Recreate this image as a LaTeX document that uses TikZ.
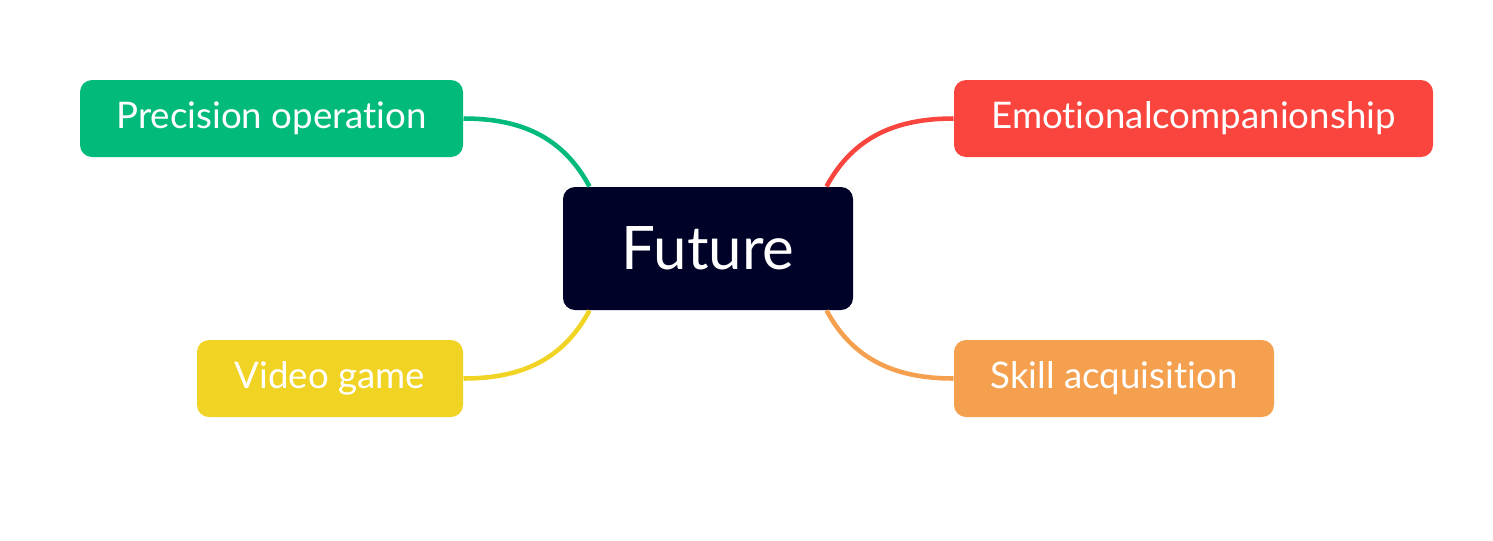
\documentclass[tikz,border=0pt]{standalone}
\usepackage{fontspec}
\setmainfont{Lato}[Ligatures=NoCommon]
\definecolor{futurenavy}{RGB}{0,2,40}
\definecolor{precgreen}{RGB}{2,187,122}
\definecolor{emored}{RGB}{250,68,62}
\definecolor{gameyellow}{RGB}{241,211,36}
\definecolor{skillorange}{RGB}{245,160,78}
\tikzset{every picture/.style={line width=0.75pt}}
\tikzset{
  topic/.style={rectangle, rounded corners=9pt, minimum height=57.75pt, inner sep=0pt, text=white, font=\fontsize{27.5}{31}\selectfont},
  branch/.style={line width=3.4pt}
}
\begin{document}
\begin{tikzpicture}[x=0.75pt,y=0.75pt,yscale=-1,xscale=1]
\useasboundingbox (0,0) rectangle (1493,540);

% Central topic
\node (future) [rectangle, rounded corners=9pt, fill=futurenavy, minimum width=217.5pt, minimum height=92.25pt, inner sep=0pt, text=white, font=\fontsize{45}{50}\selectfont] at (708,248.5) {Future};

% Subtopics
\node (prec) [topic, fill=precgreen, minimum width=287.25pt] at (271.5,118.5) {Precision operation};
\node (emo) [topic, fill=emored, minimum width=359.25pt] at (1193.5,118.5) {Emotionalcompanionship};
\node (game) [topic, fill=gameyellow, minimum width=199.5pt] at (330,378.5) {Video game};
\node (skill) [topic, fill=skillorange, minimum width=240pt] at (1114,378.5) {Skill acquisition};

% Branches
\draw [branch, precgreen] ([xshift=20.25pt]future.north west) .. controls +(-27,-50) and +(57,0) .. (prec.east);
\draw [branch, gameyellow] ([xshift=20.25pt]future.south west) .. controls +(-27,50) and +(57,0) .. (game.east);
\draw [branch, emored] ([xshift=-20.25pt]future.north east) .. controls +(27,-50) and +(-57,0) .. (emo.west);
\draw [branch, skillorange] ([xshift=-20.25pt]future.south east) .. controls +(27,50) and +(-57,0) .. (skill.west);

\end{tikzpicture}
\end{document}
